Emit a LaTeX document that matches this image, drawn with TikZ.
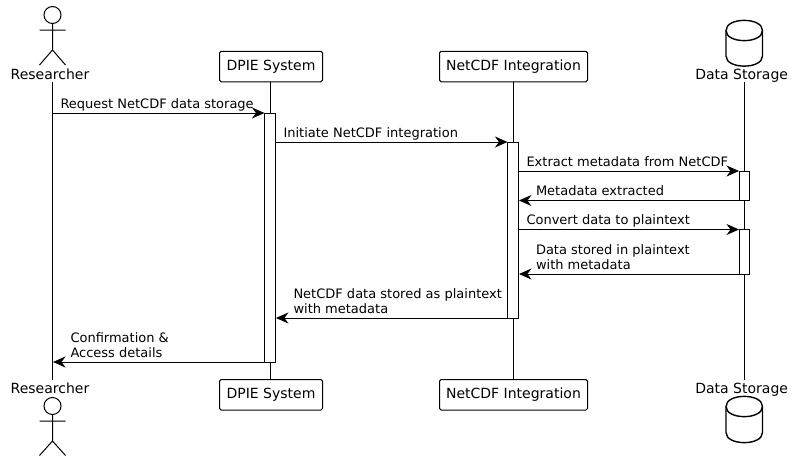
\documentclass[tikz,border=0pt]{standalone}
\usepackage{fontspec}
\setmainfont{DejaVu Sans}
\usetikzlibrary{arrows.meta}
\tikzset{
  x=1pt,y=-1pt,
  every path/.style={line width=1pt},
  lifeline/.style={line width=1pt,draw=black},
  partbox/.style={draw=black,fill=white,rounded corners=1.6pt,line width=1pt,minimum height=30.5pt,inner sep=0pt,outer sep=0pt,font=\fontsize{14}{16}\selectfont},
  actlabel/.style={inner sep=0pt,font=\fontsize{14}{16}\selectfont,anchor=base},
  bar/.style={draw=black,fill=white,line width=1pt,minimum width=10.5pt,inner sep=0pt,outer sep=0pt,anchor=north},
  msg/.style={-{Stealth[length=12.5pt,width=11pt,inset=4pt]},line width=1pt,shorten >=0.5pt},
  msgtext/.style={inner sep=0pt,anchor=base west,align=left,font=\fontsize{13}{15}\selectfont},
  figure/.style={line width=1pt,draw=black},
  dbshape/.style={line width=1.4pt,draw=black},
}
\begin{document}
\begin{tikzpicture}
\useasboundingbox (0,0) rectangle (793,461);
\fill[white] (0,0) rectangle (793,461);
% participants
\node[actlabel] (rtop) at (50,79) {Researcher};
\node[actlabel] (rbot) at (50,393) {Researcher};
\node[partbox,minimum width=103pt] (dtop) at (271,66.5) {DPIE System};
\node[partbox,minimum width=103pt] (dbot) at (271,394.8) {DPIE System};
\node[partbox,minimum width=148pt] (ntop) at (513.5,66.5) {NetCDF Integration};
\node[partbox,minimum width=148pt] (nbot) at (513.5,394.8) {NetCDF Integration};
\node[actlabel] (stop) at (741.7,79) {Data Storage};
\node[actlabel] (sbot) at (741.7,393) {Data Storage};
% lifeline ends
\coordinate (r1) at (52.5,82); \coordinate (r2) at (52.5,380);
\coordinate (s1) at (744.5,82); \coordinate (s2) at (744.5,380);
\draw[lifeline] (r1) -- (r2);
\draw[lifeline] (dtop.south -| 270,0) -- (dbot.north -| 270,0);
\draw[lifeline] (ntop.south -| 513,0) -- (nbot.north -| 513,0);
\draw[lifeline] (s1) -- (s2);
% activations
\node[bar,minimum height=249pt] (a1) at (270.2,113) {};
\node[bar,minimum height=176pt] (a2) at (513.2,142) {};
\node[bar,minimum height=29.5pt,minimum width=10pt] (a3) at (744.5,171) {};
\node[bar,minimum height=44.5pt,minimum width=10pt] (a4) at (744.5,229.5) {};
% message anchors
\coordinate (m1s) at (52.5,113);
\coordinate (m2s) at (a1.east |- 0,142);
\coordinate (m3s) at (a2.east |- a3.north);
\coordinate (m4e) at (a2.east |- a3.south);
\coordinate (m5s) at (a2.east |- a4.north);
\coordinate (m6e) at (a2.east |- a4.south);
\coordinate (m7e) at (a1.east |- a2.south);
\coordinate (m8e) at (52.5,362);
\draw[msg] (m1s) -- (a1.north west);
\draw[msg] (m2s) -- (a2.north west);
\draw[msg] (m3s) -- (a3.north west);
\draw[msg] (a3.south west) -- (m4e);
\draw[msg] (m5s) -- (a4.north west);
\draw[msg] (a4.south west) -- (m6e);
\draw[msg] (a2.south west) -- (m7e);
\draw[msg] (a1.south west) -- (m8e);
% message labels
\node[msgtext] (t1) at (60,108) {Request NetCDF data storage};
\node[msgtext] (t2) at (283,137) {Initiate NetCDF integration};
\node[msgtext] (t3) at (526,166) {Extract metadata from NetCDF};
\node[msgtext] (t4) at (535.5,195.5) {Metadata extracted};
\node[msgtext] (t5) at (526,224.5) {Convert data to plaintext};
\node[msgtext] (t6) at (535.5,269) {Data stored in plaintext\\with metadata};
\node[msgtext] (t7) at (293,313) {NetCDF data stored as plaintext\\with metadata};
\node[msgtext] (t8) at (70,357) {Confirmation \&\\Access details};
% actors
\draw[figure] (52.5,15) circle (8.5);
\draw[figure] (52.5,23.5) -- (52.5,50) (39.5,30) -- (65.5,30) (39.5,65) -- (52.5,50) -- (65.5,65);
\draw[figure] (52.5,406) circle (8.5);
\draw[figure] (52.5,414.5) -- (52.5,441) (39.5,421) -- (65.5,421) (39.5,455.5) -- (52.5,441) -- (65.5,455.5);
% databases
\draw[dbshape] (726,30.5) .. controls (726,17) and (762.5,17) .. (762.5,30.5)
  -- (762.5,56) .. controls (762.5,69.5) and (726,69.5) .. (726,56) -- cycle;
\draw[dbshape] (726,30.5) .. controls (726,44) and (762.5,44) .. (762.5,30.5);
\draw[dbshape] (726,406.5) .. controls (726,393) and (762.5,393) .. (762.5,406.5)
  -- (762.5,432.5) .. controls (762.5,446) and (726,446) .. (726,432.5) -- cycle;
\draw[dbshape] (726,406.5) .. controls (726,420) and (762.5,420) .. (762.5,406.5);
\end{tikzpicture}
\end{document}
